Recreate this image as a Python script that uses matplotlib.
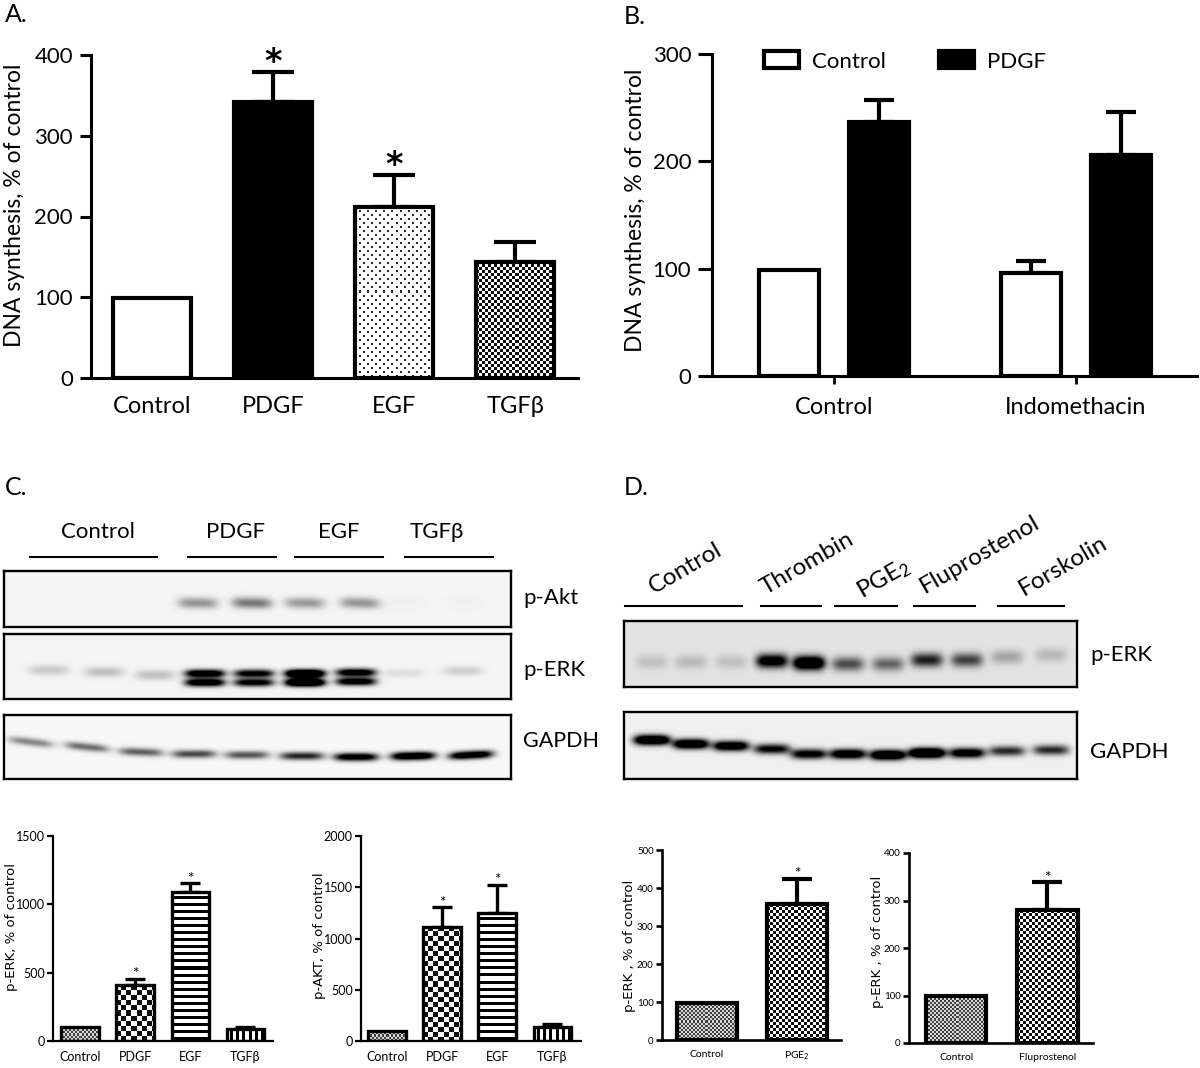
import numpy as np
import matplotlib
matplotlib.use("Agg")
from matplotlib import pyplot as plt

W, H = 1200, 1068
plt.rcParams['font.family'] = ['Lato', 'DejaVu Sans']
plt.rcParams['mathtext.default'] = 'regular'

# panel A
a_labels = ["Control", "PDGF", "EGF", "TGFβ"]
a_means = [99, 342, 212, 144]
a_tops = [None, 379, 251, 168]
a_stars = [False, True, True, False]
# panel B
b_groups = ["Control", "Indomethacin"]
b_control = [99, 96]
b_control_tops = [None, 107]
b_pdgf = [237, 206]
b_pdgf_tops = [257, 246]
# panel C bars
perk_labels = ["Control", "PDGF", "EGF", "TGFβ"]
perk_means = [102, 407, 1088, 85]
perk_tops = [None, 456, 1158, 100]
perk_stars = [False, True, True, False]
pakt_means = [102, 1114, 1248, 136]
pakt_tops = [None, 1307, 1525, 170]
pakt_stars = [False, True, True, False]
# panel D bars
pge_labels = ["Control", "PGE$_2$"]
pge_means = [98, 357]
pge_tops = [None, 425]
pge_stars = [False, True]
flu_labels = ["Control", "Fluprostenol"]
flu_means = [98, 280]
flu_tops = [None, 338]
flu_stars = [False, True]
# blot band strengths
c_akt_bands = [0.0, 0.0, 0.0, 0.38, 0.5, 0.36, 0.38, 0.02, 0.02]
c_erk_bands = [0.11, 0.13, 0.13, 1.3, 1.1, 1.7, 1.2, 0.05, 0.09]
c_gapdh_bands = [0.45, 0.55, 0.6, 0.7, 0.65, 0.85, 1.2, 1.4, 1.3]
d_erk_bands = [0.14, 0.17, 0.14, 1.1, 1.4, 0.6, 0.5, 0.8, 0.65, 0.25, 0.17]
d_gapdh_bands = [1.5, 1.4, 1.3, 1.0, 1.1, 1.3, 1.5, 1.7, 1.2, 0.8, 0.8]


def make_axes(left, right, bottom, top):
    return fig.add_axes([left/W, 1-bottom/H, (right-left)/W, (bottom-top)/H])


def pattern(kind, nx, ny):
    yy, xx = np.mgrid[0:ny, 0:nx]
    if kind == "dots":
        img = 1.0 - 0.85*(((xx % 8 < 2) & (yy % 8 < 2)) | (((xx+4) % 8 < 2) & ((yy+4) % 8 < 2)))
    elif kind == "check":
        img = 0.05 + 0.95*(((xx//3 + yy//3) % 2) == 0)
    elif kind == "bigcheck":
        img = 0.05 + 0.95*(((xx//5 + yy//5) % 2) == 0)
    elif kind == "fine":
        img = 0.25 + 0.6*(((xx//2 + yy//2) % 2) == 0)
    elif kind == "hlines":
        img = 0.0 + 1.0*(yy % 7 < 4)
    else:
        img = 0.0 + 1.0*(xx % 6 < 3)
    return img


def draw_bars(ax, xs, means, tops, width, kinds, lw, elw, cap, star_flags=None, star_size=16, star_dy=2, star_fam=None, star_weight="normal"):
    for x, m, t in zip(xs, means, tops):
        if t is not None:
            ax.errorbar(x, m, yerr=[[0], [t-m]], color="k", elinewidth=elw, capsize=cap, capthick=elw, zorder=1)
    face = ["none" if k not in ("white", "black") else ("k" if k == "black" else "white") for k in kinds]
    bars = ax.bar(xs, means, width, color=face, edgecolor="k", linewidth=lw, zorder=3)
    fig.canvas.draw()
    for b, kind in zip(bars, kinds):
        if kind in ("white", "black"):
            continue
        ext = b.get_window_extent()
        img = pattern(kind, max(int(ext.width), 1), max(int(ext.height), 1))
        ax.imshow(img, cmap="gray", vmin=0, vmax=1, aspect="auto", interpolation="nearest", zorder=2,
                  extent=(b.get_x(), b.get_x()+b.get_width(), 0, b.get_height()))
    if star_flags:
        for x, t, s in zip(xs, tops, star_flags):
            if s:
                kw = {"family": star_fam} if star_fam else {}
                ax.annotate("*", xy=(x, t), xytext=(0, star_dy), textcoords="offset points", ha="center", va="bottom",
                            fontsize=star_size, fontweight=star_weight, annotation_clip=False, **kw)


def style(ax, xs, labels, ylim, yticks, lim, spine, tick_len, tick_fs, lab_fs, pad, ypad):
    ax.set_xlim(lim)
    ax.set_ylim(ylim)
    for s in ["top", "right"]:
        ax.spines[s].set_visible(False)
    for s in ["left", "bottom"]:
        ax.spines[s].set_linewidth(spine)
    ax.set_yticks(yticks)
    ax.set_xticks(xs)
    ax.set_xticklabels(labels, fontsize=lab_fs)
    ax.tick_params(axis="x", length=0, pad=pad)
    ax.tick_params(axis="y", length=tick_len, width=spine, labelsize=tick_fs, pad=ypad)


def blot(left, right, top, bottom, lanes, rows, strengths, bw, bh, bg, sep=None, tilt=None):
    xx, yy = np.meshgrid(np.arange(left, right)+.5, np.arange(top, bottom)+.5)
    img = np.full(xx.shape, bg, dtype=float)
    for i, (cx, cy, s) in enumerate(zip(lanes, rows, strengths)):
        sl = 0 if tilt is None else tilt[i]
        gap = 0 if sep is None else sep[i]
        f = np.exp(-((xx-cx)/bw)**4)
        yc = cy + sl*(xx-cx)
        if gap:
            g = np.exp(-((yy-yc+gap/2)/bh)**2) + np.exp(-((yy-yc-gap/2)/bh)**2)
        else:
            g = np.exp(-((yy-yc)/bh)**2)
        img -= s*f*g
    ax = make_axes(left, right, bottom, top)
    ax.imshow(np.clip(img, 0, 1), cmap="gray", vmin=0, vmax=1, aspect="auto", interpolation="bilinear")
    ax.set_xticks([])
    ax.set_yticks([])
    for s in ax.spines.values():
        s.set_linewidth(1.7)
    return ax


def ptext(x, y, s, **kw):
    fig.text(x/W, 1-y/H, s, **kw)


def pline(x0, x1, y):
    fig.add_artist(plt.Line2D([x0/W, x1/W], [1-y/H, 1-y/H], color="k", lw=1.5))


fig = plt.figure(figsize=(12, 10.68), dpi=100)

# A
ax = make_axes(91, 578, 378, 55)
xs = np.arange(4)
style(ax, xs, a_labels, (0, 400), [0, 100, 200, 300, 400], (-0.504, 3.52), 2.2, 8, 16, 17, 13, 5)
draw_bars(ax, xs, a_means, a_tops, 0.65, ["white", "black", "dots", "check"], 3, 3, 15, a_stars, 24, -5, "DejaVu Sans", "bold")
ptext(15, 205, "DNA synthesis, % of control", rotation=90, ha="center", va="center", fontsize=16.5)

# B
ax = make_axes(712, 1197, 376, 54)
xs = np.arange(2)
off = 0.186
bw = 0.245
style(ax, xs, b_groups, (0, 300), [0, 100, 200, 300], (-0.504, 1.5), 2.2, 10, 16, 17, 9, 5)
draw_bars(ax, xs-off, b_control, b_control_tops, bw, ["white", "white"], 3, 3, 11)
draw_bars(ax, xs+off, b_pdgf, b_pdgf_tops, bw, ["black", "black"], 3, 3, 11)
ax.tick_params(axis="x", length=6, width=2)
handles = [plt.Rectangle((0, 0), 1, 1, fc="white", ec="k", lw=3), plt.Rectangle((0, 0), 1, 1, fc="k", ec="k", lw=3)]
ax.legend(handles, ["Control", "PDGF"], ncol=2, frameon=False, fontsize=16, loc="upper left",
          bbox_to_anchor=(0.067, 1.07), handlelength=1.55, handleheight=0.8, handletextpad=0.6, columnspacing=2.4)
ptext(636, 210, "DNA synthesis, % of control", rotation=90, ha="center", va="center", fontsize=16.5)

# C blots
lanes_akt = [49, 104, 155, 198, 252, 305, 360, 404, 463]
blot(4, 511, 571, 627, lanes_akt, [603]*9, c_akt_bands, 20, 5.5, 0.96, tilt=[0, 0, 0, .02, .02, .02, .03, 0, 0])
lanes_erk = [49, 104, 155, 205, 254, 305, 356, 404, 463]
blot(4, 511, 634, 699, lanes_erk, [670, 672, 675, 678, 678, 678, 677, 673, 671], c_erk_bands, 20, 4,
     0.96, sep=[4, 4, 4, 9, 9, 9, 9, 3, 3])
lanes_gapdh = [31, 87, 141, 194, 247, 302, 356, 413, 471]
blot(4, 511, 715, 779, lanes_gapdh, [742, 747, 752, 754, 755, 756, 757, 756, 755], c_gapdh_bands, 22, 4, 0.97,
     tilt=[.12, .1, .04, 0, 0, 0, 0, -.02, -.05])
for x0, x1 in [(30, 157), (188, 276), (295, 383), (405, 493)]:
    pline(x0, x1, 557)
for x, s in zip([98, 235, 339, 437], ["Control", "PDGF", "EGF", "TGFβ"]):
    ptext(x, 532, s, ha="center", va="center", fontsize=16)
ptext(523, 598, "p-Akt", va="center", fontsize=16)
ptext(523, 670, "p-ERK", va="center", fontsize=16)
ptext(523, 741, "GAPDH", va="center", fontsize=15.5)

# D blots
lanes_d = [652, 691, 731, 772, 809, 848, 888, 927, 967, 1007, 1051]
blot(624, 1077, 621, 687, lanes_d, [662, 662, 662, 661, 663, 664, 664, 660, 660, 657, 655], d_erk_bands, 16, 7, 0.89)
blot(624, 1077, 712, 779, lanes_d, [740, 744, 746, 749, 754, 754, 755, 753, 753, 751, 750], d_gapdh_bands, 18, 5, 0.94)
for x0, x1 in [(625, 742), (761, 821), (835, 897), (914, 975), (998, 1064)]:
    pline(x0, x1, 606)
d_names = ["Control", "Thrombin", "PGE$_2$", "Fluprostenol", "Forskolin"]
for x, y, s in zip([685, 807, 884, 980, 1063], [568, 563, 579, 554, 566], d_names):
    ptext(x, y, s, ha="center", va="center", fontsize=17.5, rotation=30, rotation_mode="anchor")
ptext(1090, 655, "p-ERK", va="center", fontsize=16)
ptext(1090, 752, "GAPDH", va="center", fontsize=16)

# panel letters
for x, y, s in zip([5, 624, 5, 624], [14, 16, 487, 487], ["A.", "B.", "C.", "D."]):
    ptext(x, y, s, va="center", fontsize=18)

# C bars
ax = make_axes(53, 273, 1041, 836)
xs = np.arange(4)
style(ax, xs, perk_labels, (0, 1500), [0, 500, 1000, 1500], (-0.49, 3.5), 1.6, 4, 9, 9, 7, 2)
draw_bars(ax, xs, perk_means, perk_tops, 0.68, ["fine", "bigcheck", "hlines", "vlines"], 2.4, 2.4, 7, perk_stars, 11, -2)
ptext(12, 927, "p-ERK, % of control", rotation=90, ha="center", va="center", fontsize=9.5, family="DejaVu Sans")

ax = make_axes(361, 581, 1041, 836)
style(ax, xs, perk_labels, (0, 2000), [0, 500, 1000, 1500, 2000], (-0.47, 3.52), 1.6, 4, 9, 9, 7, 2)
draw_bars(ax, xs, pakt_means, pakt_tops, 0.68, ["fine", "bigcheck", "hlines", "vlines"], 2.4, 2.4, 7, pakt_stars, 11, -2)
ptext(319, 936, "p-AKT, % of control", rotation=90, ha="center", va="center", fontsize=9.5, family="DejaVu Sans")

# D bars
ax = make_axes(662, 841, 1040, 850)
xs = np.arange(2)
style(ax, xs, pge_labels, (0, 500), [0, 100, 200, 300, 400, 500], (-0.5, 1.49), 1.9, 4, 7, 7.5, 7, 2)
draw_bars(ax, xs, pge_means, pge_tops, 0.66, ["fine", "check"], 3, 3, 11, pge_stars, 11, -2)
ptext(629, 946, "p-ERK , % of control", rotation=90, ha="center", va="center", fontsize=9.5, family="DejaVu Sans")

ax = make_axes(909, 1093, 1043, 853)
style(ax, xs, flu_labels, (0, 400), [0, 100, 200, 300, 400], (-0.52, 1.5), 1.9, 4, 7, 7.5, 7, 2)
draw_bars(ax, xs, flu_means, flu_tops, 0.66, ["fine", "check"], 3, 3, 11, flu_stars, 11, -2)
ptext(878, 942, "p-ERK , % of control", rotation=90, ha="center", va="center", fontsize=9.5, family="DejaVu Sans")

fig.savefig("out.png", dpi=100)
